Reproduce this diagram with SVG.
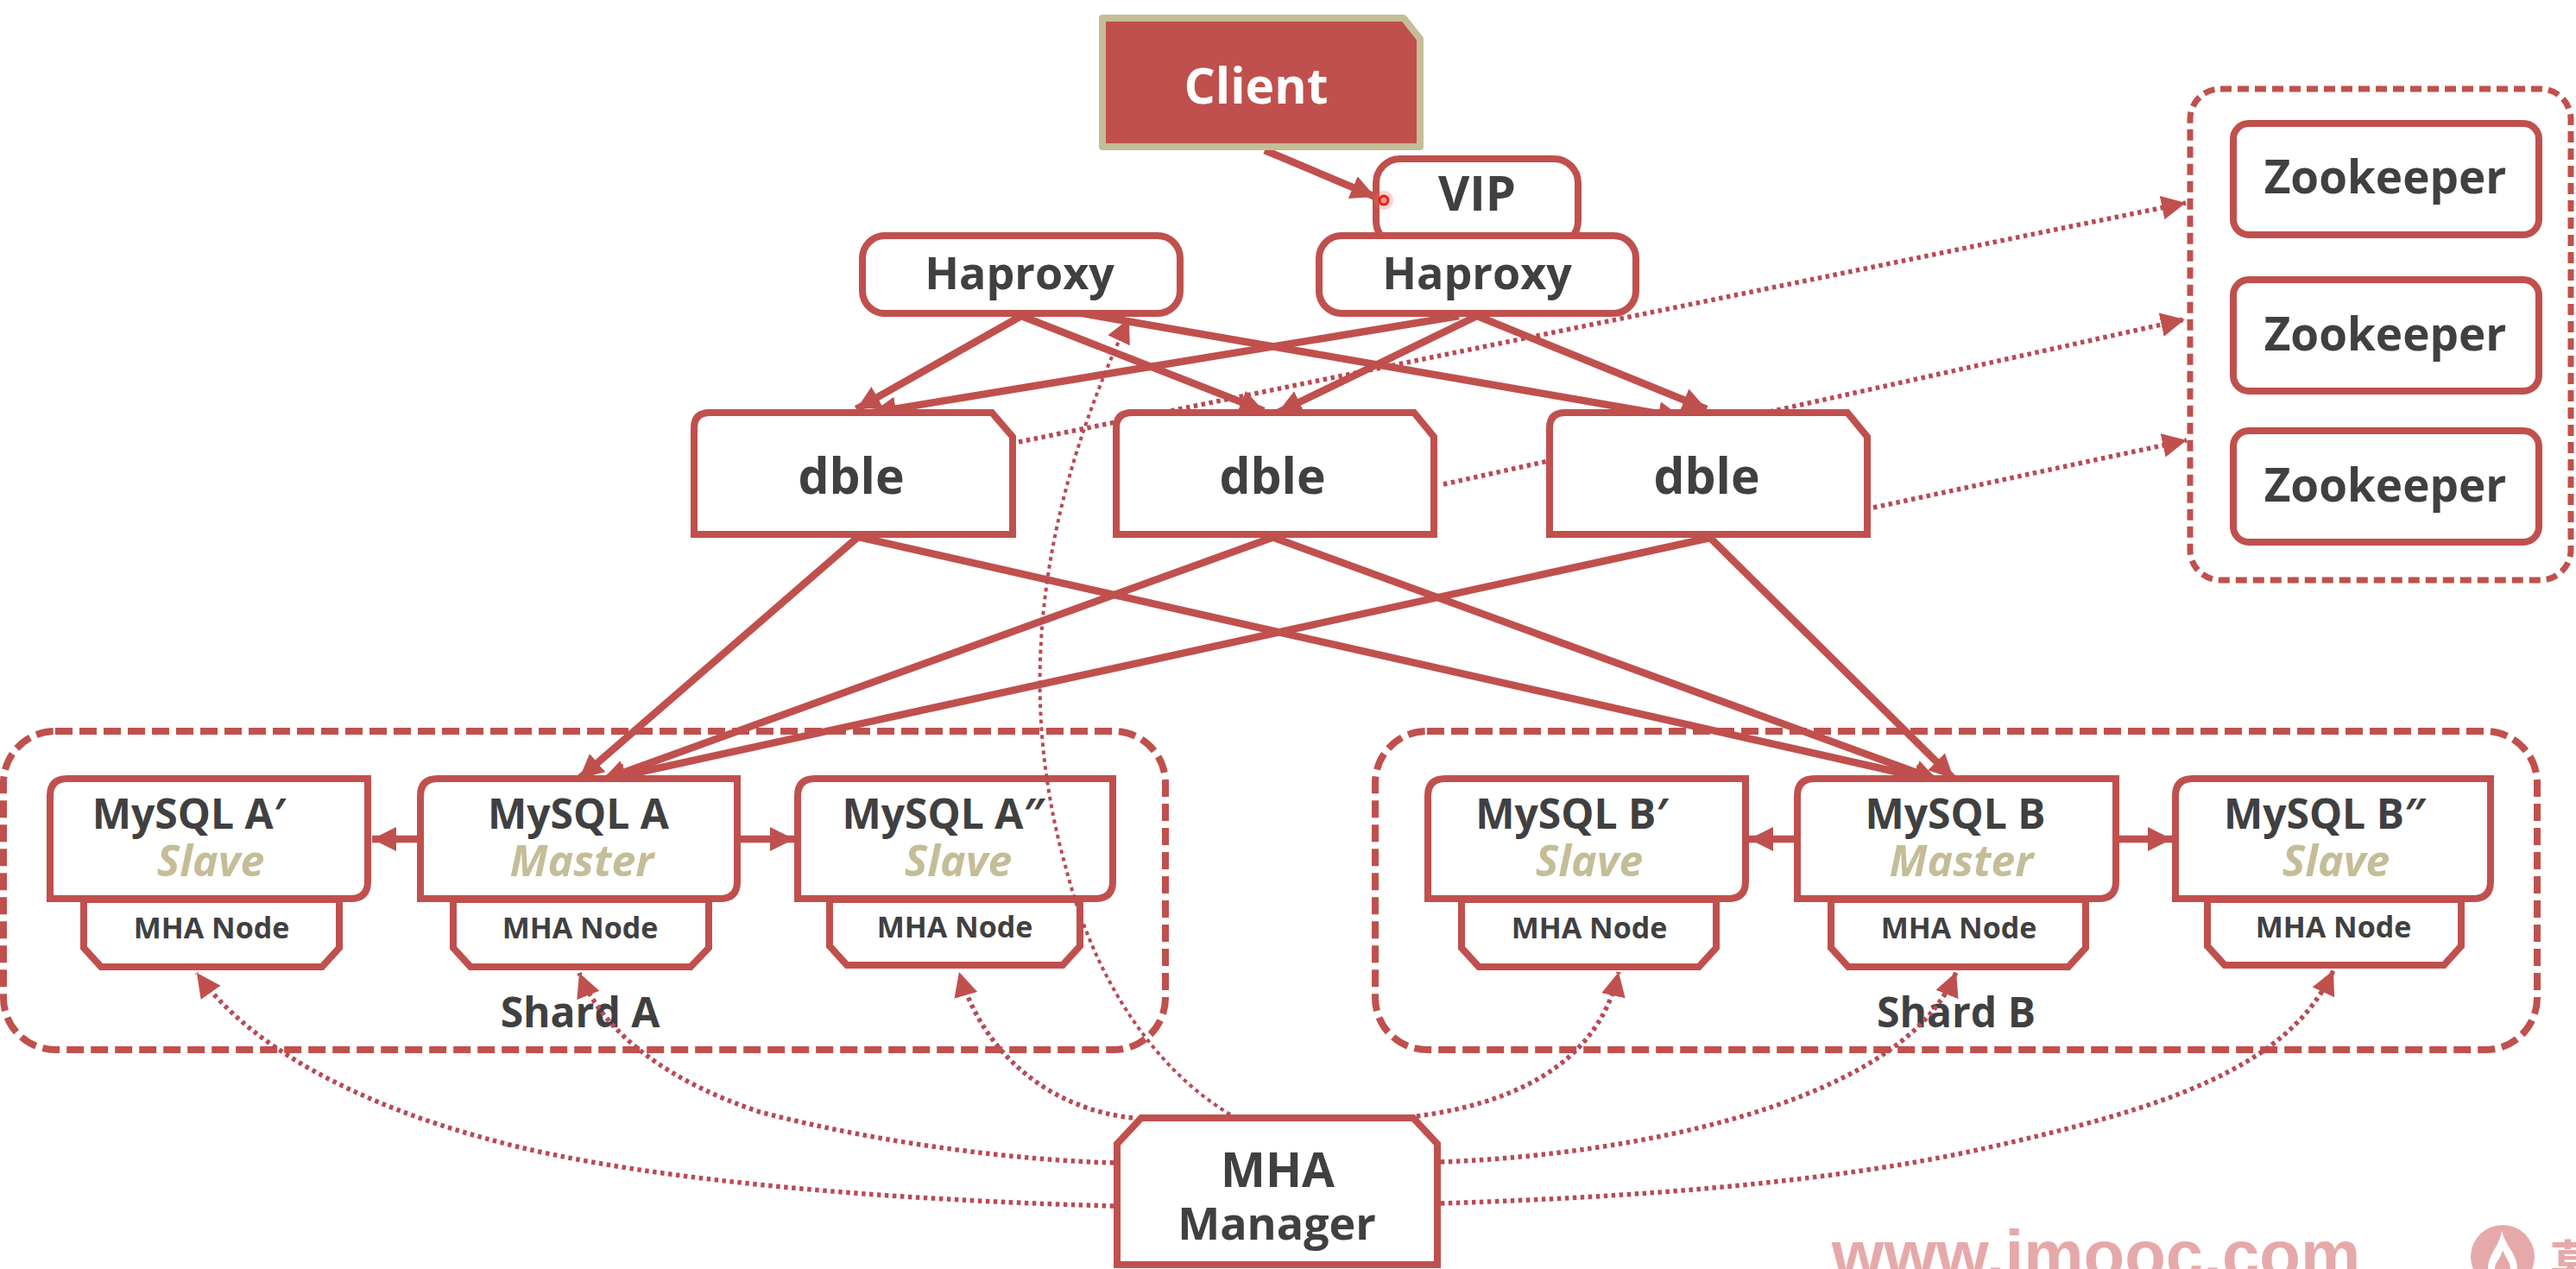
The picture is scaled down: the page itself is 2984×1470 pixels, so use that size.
<svg xmlns="http://www.w3.org/2000/svg" width="2984" height="1470" viewBox="0 0 2984 1470">
<style>
text{font-family:"Open Sans","Noto Sans","Liberation Sans",sans-serif;font-weight:700;fill:#404040;text-anchor:middle}
.b{fill:#fff;stroke:#c0504d;stroke-width:8;stroke-linejoin:miter}
.g{fill:none;stroke:#c0504d;stroke-width:8;stroke-dasharray:20 8}
.s{font-style:italic;fill:#c4bd97;font-size:50px}
.m{font-size:48px}
.n{font-size:34px}
.h{font-size:52px}
.z{font-size:53px}
.db{font-size:57px}
.l{fill:none;stroke:#c0504d;stroke-width:8.5;marker-end:url(#a)}
.d{fill:none;stroke:#b94a55;stroke-width:5.5;stroke-dasharray:4.5 4.5;marker-end:url(#a)}
.wm{font-family:"Liberation Sans",Arial,sans-serif;font-size:78px;fill:#e6a9aa}
</style>
<defs>
<marker id="a" markerUnits="userSpaceOnUse" markerWidth="32" markerHeight="32" refX="28" refY="14" orient="auto"><path d="M0 0L28 14L0 28Z" fill="#c0504d"/></marker>
</defs>
<rect width="2984" height="1470" fill="#fff"/>
<g id="connectors-back">
<path class="d" d="M1180 512L2532 235"/>
<path class="d" d="M1672 561L2531 370"/>
<path class="d" d="M2170 588L2533 510"/>
<path class="l" d="M1465 174L1593 228"/>
<path class="l" d="M1183 366L992 474"/>
<path class="l" d="M1183 366L1464 476"/>
<path class="l" d="M1225 358L1949 484"/>
<path class="l" d="M1690 366L1010 478"/>
<path class="l" d="M1711 366L1480 478"/>
<path class="l" d="M1711 366L1977 474"/>
<path class="l" d="M994 622L671 902"/>
<path class="l" d="M1476 622L697 904"/>
<path class="l" d="M1981 623L697 904"/>
<path class="l" d="M994 622L2245 905"/>
<path class="l" d="M1476 623L2245 904"/>
<path class="l" d="M1981 623L2263 902"/>
<path class="l" d="M483 972L431 972"/>
<path class="l" d="M858 972L920 972"/>
<path class="l" d="M2078 972L2026 972"/>
<path class="l" d="M2455 972L2516 972"/>
</g>
<g id="shard-a"><rect class="g" x="4" y="847" width="1346" height="369" rx="60"/><text x="672" y="1190" class="m">Shard A</text></g>
<g id="shard-b"><rect class="g" x="1593" y="847" width="1346" height="369" rx="60"/><text x="2266" y="1190" class="m">Shard B</text></g>
<g id="zookeeper-cluster"><rect class="g" style="stroke-width:7;stroke-dasharray:13 7" x="2537" y="103" width="441" height="569" rx="35"/></g>
<g id="zookeeper-1"><rect class="b" x="2587" y="143" width="354" height="129" rx="18"/><text x="2763" y="224" class="z">Zookeeper</text></g>
<g id="zookeeper-2"><rect class="b" x="2587" y="324" width="354" height="129" rx="18"/><text x="2763" y="406" class="z">Zookeeper</text></g>
<g id="zookeeper-3"><rect class="b" x="2587" y="499" width="354" height="129" rx="18"/><text x="2763" y="581" class="z">Zookeeper</text></g>
<g id="client"><path d="M1277 21H1626L1645 45V170H1277Z" fill="#c0504d" stroke="#c4bd97" stroke-width="8" stroke-linejoin="round"/><text x="1455" y="120" style="font-size:57px;fill:#fff">Client</text></g>
<g id="vip"><rect class="b" x="1594" y="184" width="234" height="100" rx="28"/><text x="1711" y="244" style="font-size:56px">VIP</text></g>
<g id="haproxy-1"><rect class="b" x="999" y="273" width="368" height="90" rx="26"/><text x="1181" y="335" class="h">Haproxy</text></g>
<g id="haproxy-2"><rect class="b" x="1528" y="273" width="367" height="90" rx="26"/><text x="1711" y="335" class="h">Haproxy</text></g>
<g id="dble-1"><path class="b" d="M804 496Q804 478 822 478H1149L1173 506V619H804Z"/><text x="986" y="572" class="db">dble</text></g>
<g id="dble-2"><path class="b" d="M1293 496Q1293 478 1311 478H1638L1661 506V619H1293Z"/><text x="1474" y="572" class="db">dble</text></g>
<g id="dble-3"><path class="b" d="M1795 496Q1795 478 1813 478H2140L2163 506V619H1795Z"/><text x="1977" y="572" class="db">dble</text></g>
<g id="mysql-a1">
<path class="b" d="M97 1042V1098L117 1120H373L393 1098V1042Z"/><text x="245" y="1087" class="n">MHA Node</text>
<path class="b" d="M58 922Q58 902 78 902H426V1021Q426 1041 406 1041H58Z"/><text x="219" y="960" class="m">MySQL A′</text><text x="244" y="1015" class="s">Slave</text></g>
<g id="mysql-a">
<path class="b" d="M525 1042V1098L545 1120H800L821 1098V1042Z"/><text x="672" y="1087" class="n">MHA Node</text>
<path class="b" d="M487 922Q487 902 507 902H854V1021Q854 1041 834 1041H487Z"/><text x="670" y="960" class="m">MySQL A</text><text x="674" y="1015" class="s">Master</text></g>
<g id="mysql-a2">
<path class="b" d="M961 1042V1096L981 1118H1231L1251 1096V1042Z"/><text x="1106" y="1086" class="n">MHA Node</text>
<path class="b" d="M924 922Q924 902 944 902H1289V1021Q1289 1041 1269 1041H924Z"/><text x="1093" y="960" class="m">MySQL A″</text><text x="1110" y="1015" class="s">Slave</text></g>
<g id="mysql-b1">
<path class="b" d="M1693 1042V1098L1713 1120H1968L1988 1098V1042Z"/><text x="1841" y="1087" class="n">MHA Node</text>
<path class="b" d="M1654 922Q1654 902 1674 902H2022V1021Q2022 1041 2002 1041H1654Z"/><text x="1821" y="960" class="m">MySQL B′</text><text x="1841" y="1015" class="s">Slave</text></g>
<g id="mysql-b">
<path class="b" d="M2121 1042V1098L2141 1120H2396L2416 1098V1042Z"/><text x="2269" y="1087" class="n">MHA Node</text>
<path class="b" d="M2082 922Q2082 902 2102 902H2451V1021Q2451 1041 2431 1041H2082Z"/><text x="2265" y="960" class="m">MySQL B</text><text x="2272" y="1015" class="s">Master</text></g>
<g id="mysql-b2">
<path class="b" d="M2557 1042V1096L2577 1118H2831L2851 1096V1042Z"/><text x="2703" y="1086" class="n">MHA Node</text>
<path class="b" d="M2520 922Q2520 902 2540 902H2885V1021Q2885 1041 2865 1041H2520Z"/><text x="2693" y="960" class="m">MySQL B″</text><text x="2706" y="1015" class="s">Slave</text></g>
<g id="mha-manager"><path class="b" d="M1294 1465V1325L1322 1295H1637L1665 1325V1465Z"/><text x="1480" y="1375" style="font-size:55px">MHA</text><text x="1479" y="1436" style="font-size:52px">Manager</text></g>
<g id="connectors-front">
<path class="d" d="M1290 1397C1100 1392 760 1375 560 1318C420 1280 290 1215 228 1127"/>
<path class="d" d="M1290 1347C1180 1344 1020 1325 880 1288C780 1255 700 1200 671 1127"/>
<path class="d" d="M1312 1295C1220 1285 1140 1225 1111 1126"/>
<path class="d" style="stroke-width:4" d="M1425 1291C1340 1240 1270 1140 1236 1010C1190 850 1180 640 1308 369"/>
<path class="d" d="M1641 1293C1740 1280 1850 1240 1875 1126"/>
<path class="d" d="M1669 1346C1850 1340 2200 1290 2266 1126"/>
<path class="d" d="M1669 1394C1850 1388 2100 1375 2300 1330C2500 1285 2650 1240 2703 1124"/>
</g>
<circle cx="1603" cy="232" r="11" fill="#ff6a5a" opacity=".3"/><circle cx="1603" cy="232" r="5" fill="#f59080" stroke="#e02020" stroke-width="3"/>
<text class="wm" x="2428" y="1480">www.imooc.com</text>
<circle cx="2899" cy="1456" r="37" fill="#e6a9aa"/><path d="M2898 1425C2901 1442 2916 1452 2916 1470H2882C2882 1452 2896 1444 2898 1425Z" fill="#fff"/><path d="M2899 1448C2903 1458 2908 1462 2908 1470H2890C2890 1462 2897 1458 2899 1448Z" fill="#e6a9aa"/>
<text x="2953" y="1490" style="font-family:'Noto Sans CJK SC',sans-serif;font-size:64px;fill:#e6a9aa;text-anchor:start">慕</text>
</svg>
